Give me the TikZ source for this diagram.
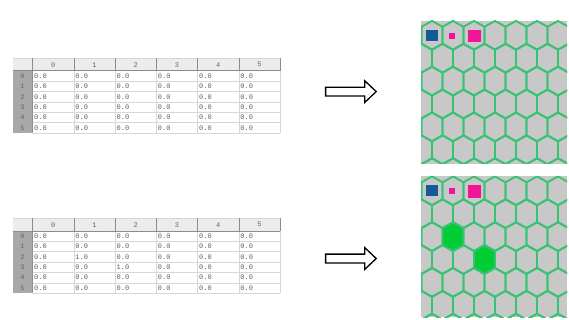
\documentclass[tikz,border=0pt]{standalone}
\usepackage{fontspec}
\newfontfamily\cellfont{Liberation Mono}
\usetikzlibrary{positioning}

\definecolor{hexline}{RGB}{55,195,115}
\definecolor{hexfill}{RGB}{0,204,51}
\definecolor{panelbg}{RGB}{200,200,200}
\definecolor{mapblue}{RGB}{20,90,150}
\definecolor{mappink}{RGB}{240,20,150}
\definecolor{headbg}{RGB}{236,236,236}
\definecolor{rowbg}{RGB}{168,168,168}
\definecolor{gridc}{RGB}{215,215,215}
\definecolor{textc}{RGB}{95,95,95}

\begin{document}
\begin{tikzpicture}[x=1pt,y=-1pt,
  celltext/.style={font=\cellfont\fontsize{7}{8}\selectfont, text=textc, inner sep=0pt},
  headtext/.style={celltext, text=black!60},
  pics/hexcell/.style={code={\path[pic actions] (0,-14.4) -- (10.5,-8.5) -- (10.5,8.5) -- (0,14.4) -- (-10.5,8.5) -- (-10.5,-8.5) -- cycle;}}]
\useasboundingbox (0,0) rectangle (569,320);

% tables of values
\foreach \ty/\hot in {58.3/0, 218.3/1} {
\begin{scope}[shift={(12.5,\ty)}]
\fill[white] (0,0) rectangle (267.5,74.8);
\fill[headbg] (0,0) rectangle (267.5,12.4);
\fill[rowbg] (0,12.4) rectangle (20,74.8);
\foreach \r in {1,...,6}
  \draw[gridc] (20,12.4+10.4*\r) -- (267.5,12.4+10.4*\r);
\foreach \c in {1,...,6}
  \draw[gridc] (20+41.25*\c,12.4) -- (20+41.25*\c,74.8);
\draw[gridc] (0,0) -- (267.5,0);
\foreach \c in {0,...,6}
  \draw[black!45] (20+41.25*\c,0) -- (20+41.25*\c,12.4);
\draw[black!45] (0,12.4) -- (267.5,12.4);
\draw[rowbg!85!black] (20,12.4) -- (20,74.8);
\foreach \c in {0,...,5}
  \node[headtext] (h\hot\c) at (40.6+41.25*\c,6.4) {\c};
\foreach \r in {0,...,5} {
  \node[headtext] (r\hot\r) at (10,17.6+10.4*\r) {\r};
  \foreach \c in {0,...,5}
    \node[celltext, anchor=west] (v\hot\r\c) at (21.5+41.25*\c,17.6+10.4*\r)
      {\ifnum\hot\r\c=121 1.0\else\ifnum\hot\r\c=132 1.0\else 0.0\fi\fi};
}
\end{scope}
}

% arrows
\foreach \ay in {91.6, 258.5}
  \draw[line width=1.3pt, line join=miter] (325.6,\ay-4.4) -- (364.8,\ay-4.4) -- (364.8,\ay-10.8)
    -- (376.2,\ay) -- (364.8,\ay+10.8) -- (364.8,\ay+4.4) -- (325.6,\ay+4.4) -- cycle;

% hexagon maps
\foreach \py/\ph/\hot in {21/143/0, 176.5/140.5/1} {
\begin{scope}[shift={(421,\py)}]
\fill[panelbg] (0,0) rectangle (146,\ph);
\begin{scope}
\clip (0,0) rectangle (146,\ph);
\ifnum\hot=1
  \pic[fill=hexfill] at (32,60.1) {hexcell};
  \pic[fill=hexfill] at (63.5,83) {hexcell};
\fi
\foreach \r in {0,...,6}
  \foreach \c in {-1,...,7} {
    \pgfmathsetmacro\cx{11+21*\c+10.5*mod(\r,2)}
    \pgfmathsetmacro\cy{14.3+22.9*\r}
    \pic[draw=hexline, line width=1.9pt, line join=round] at (\cx,\cy) {hexcell};
  }
\end{scope}
\fill[mapblue] (5,9) rectangle (17,20);
\fill[mappink] (28,12) rectangle (34,18);
\fill[mappink] (47,9) rectangle (60,21);
\end{scope}
}
\end{tikzpicture}
\end{document}
